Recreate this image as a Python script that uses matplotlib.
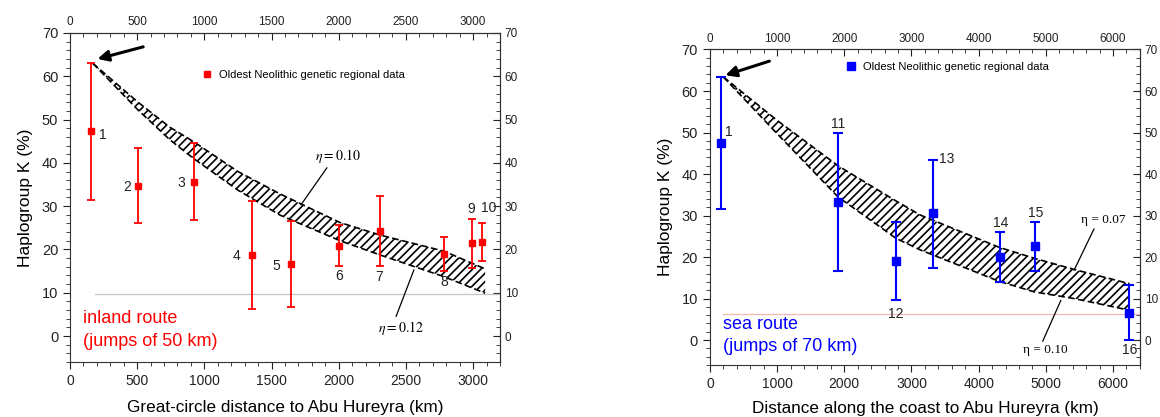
import numpy as np
import matplotlib
matplotlib.use("Agg")
import matplotlib.pyplot as plt
from matplotlib.lines import Line2D
from matplotlib.ticker import MultipleLocator

plt.rcParams['font.family'] = ['Liberation Sans', 'DejaVu Sans']
plt.rcParams['mathtext.fontset'] = 'stix'
plt.rcParams['hatch.linewidth'] = 1.2

# inland route (great-circle distance), regions 1-10
INLAND_ID = ['1', '2', '3', '4', '5', '6', '7', '8', '9', '10']
INLAND_KM = [155, 510, 921, 1354, 1647, 2003, 2304, 2787, 2995, 3067]
INLAND_K = [47.3, 34.7, 35.6, 18.7, 16.6, 20.9, 24.3, 18.9, 21.4, 21.8]
INLAND_LO = [31.5, 26.0, 26.8, 6.3, 6.6, 16.2, 16.2, 15.1, 15.8, 17.3]
INLAND_HI = [63.0, 43.5, 44.6, 31.3, 26.6, 25.6, 32.4, 22.9, 27.0, 26.2]

# sea route (distance along the coast), regions 1, 11-16
SEA_ID = ['1', '11', '12', '13', '14', '15', '16']
SEA_KM = [164, 1906, 2771, 3324, 4313, 4831, 6243]
SEA_K = [47.5, 33.3, 19.0, 30.5, 20.1, 22.7, 6.6]
SEA_LO = [31.6, 16.6, 9.6, 17.4, 14.1, 16.7, 0.0]
SEA_HI = [63.3, 50.0, 28.5, 43.5, 26.0, 28.5, 13.3]

# model curves bounding the hatched bands
INLAND_CURVE_KM = [170, 507, 745, 920, 1250, 1565, 2011, 2310, 2784, 3090]
INLAND_ETA010 = [63.0, 54.0, 48.2, 44.9, 38.0, 32.8, 26.2, 23.3, 19.6, 15.5]
INLAND_ETA012 = [63.0, 52.2, 45.3, 41.0, 33.7, 27.9, 22.0, 18.7, 13.7, 9.9]

SEA_CURVE_KM = [199, 995, 1906, 2771, 3134, 4313, 4831, 5423, 6243]
SEA_ETA007 = [63.4, 53.0, 42.0, 33.5, 30.1, 22.3, 19.7, 17.0, 13.6]
SEA_ETA010 = [63.4, 49.8, 34.5, 24.5, 21.7, 14.1, 11.6, 10.0, 7.2]

INLAND_BASELINE = 9.6
SEA_BASELINE = 6.4

LEGEND_TEXT = 'Oldest Neolithic genetic regional data'

inland_offsets = [(9, -3), (-8, -1), (-9, -1), (-11, -1), (-11, -1),
                  (0, -22), (0, -33), (0, -20), (-1, 25), (5, 24)]
sea_offsets = [(6, 8), (0, 56), (0, -38), (10, 39), (1, 24), (1, 24), (0, -27)]


def style_axes(ax, xmax, xmajor, xminor):
    ax.set_xlim(0, xmax)
    ax.set_ylim(-6, 70)
    ax.xaxis.set_major_locator(MultipleLocator(xmajor))
    ax.xaxis.set_minor_locator(MultipleLocator(xminor))
    ax.yaxis.set_major_locator(MultipleLocator(10))
    ax.yaxis.set_minor_locator(MultipleLocator(2))
    ax.tick_params(which='both', direction='out', colors='#222222')
    ax.tick_params(axis='y', labelsize=10.5)
    ax.tick_params(axis='x', labelsize=10)
    ax.tick_params(which='major', length=5)
    ax.tick_params(which='minor', length=3)
    for s in ax.spines.values():
        s.set_color('#333333')
    top = ax.secondary_xaxis('top')
    top.xaxis.set_major_locator(MultipleLocator(xmajor))
    top.xaxis.set_minor_locator(MultipleLocator(xminor))
    top.tick_params(which='both', direction='in', labelsize=8.5, colors='#222222')
    top.tick_params(which='major', length=5)
    top.tick_params(which='minor', length=3)
    right = ax.secondary_yaxis('right')
    right.yaxis.set_major_locator(MultipleLocator(10))
    right.yaxis.set_minor_locator(MultipleLocator(2))
    right.tick_params(which='both', direction='in', labelsize=8.5, colors='#222222')
    right.tick_params(which='major', length=5)
    right.tick_params(which='minor', length=3)


def draw_band(ax, x, upper, lower):
    ax.fill_between(x, lower, upper, facecolor='none', edgecolor='black',
                    hatch='////', linewidth=0)
    ax.plot(x, upper, color='black', lw=1.2, ls=(0, (4, 2)))
    ax.plot(x, lower, color='black', lw=1.2, ls=(0, (4, 2)))


def add_legend(ax, color, ms, anchor):
    handle = Line2D([], [], marker='s', ls='none', color=color, ms=ms)
    ax.legend([handle], [LEGEND_TEXT], loc='center left', bbox_to_anchor=anchor,
              frameon=False, fontsize=8, handlelength=1.0, handletextpad=0.6,
              borderpad=0, borderaxespad=0)


fig = plt.figure(figsize=(11.6, 4.17), dpi=100)
ax1 = fig.add_axes([0.0603, 0.1319, 0.3707, 0.789])
ax2 = fig.add_axes([0.612, 0.1247, 0.3707, 0.7566])

# ---- inland route ----
style_axes(ax1, 3200, 500, 100)
ax1.plot([185, 3200], [INLAND_BASELINE] * 2, color='#c4c4c4', lw=0.9)
draw_band(ax1, INLAND_CURVE_KM, INLAND_ETA010, INLAND_ETA012)
k = np.array(INLAND_K)
yerr = [k - np.array(INLAND_LO), np.array(INLAND_HI) - k]
ax1.errorbar(INLAND_KM, INLAND_K, yerr=yerr, fmt='s', color='#ff0000',
             ms=4.5, elinewidth=1.3, capsize=3, capthick=1.3)
for lab, xv, yv, off in zip(INLAND_ID, INLAND_KM, INLAND_K, inland_offsets):
    ax1.annotate(lab, (xv, yv), xytext=off, textcoords='offset points',
                 ha='center', va='center', fontsize=10, color='#222222')
ax1.annotate('', xy=(205, 64.0), xytext=(545, 66.8),
             arrowprops=dict(arrowstyle='-|>', color='black', lw=2.2,
                             mutation_scale=16, shrinkA=0, shrinkB=0))
ax1.annotate(r'$\eta = 0.10$', xy=(1719, 30.3), xytext=(1826, 41.6),
             ha='left', va='center', fontsize=10,
             arrowprops=dict(arrowstyle='-', color='black', lw=0.9,
                             shrinkA=0, shrinkB=0, relpos=(0.35, 0.2)))
ax1.annotate(r'$\eta = 0.12$', xy=(2560, 15.3), xytext=(2460, 1.8),
             ha='center', va='center', fontsize=10,
             arrowprops=dict(arrowstyle='-', color='black', lw=0.9,
                             shrinkA=0, shrinkB=0, relpos=(0.35, 0.8)))
ax1.text(100, 1.3, 'inland route\n(jumps of 50 km)', color='#ff0000',
         fontsize=13, ha='left', va='center', linespacing=1.45)
add_legend(ax1, '#ff0000', 5, (0.305, 0.873))
ax1.set_xlabel('Great-circle distance to Abu Hureyra (km)', fontsize=12.3,
               labelpad=9)
ax1.set_ylabel('Haplogroup K (%)', fontsize=12.5, labelpad=6)

# ---- sea route ----
style_axes(ax2, 6400, 1000, 200)
ax2.plot([198, 6400], [SEA_BASELINE] * 2, color='#f5b8b8', lw=0.9)
draw_band(ax2, SEA_CURVE_KM, SEA_ETA007, SEA_ETA010)
k = np.array(SEA_K)
yerr = [k - np.array(SEA_LO), np.array(SEA_HI) - k]
ax2.errorbar(SEA_KM, SEA_K, yerr=yerr, fmt='s', color='#0000ff',
             ms=6, elinewidth=1.5, capsize=3.5, capthick=1.5)
for lab, xv, yv, off in zip(SEA_ID, SEA_KM, SEA_K, sea_offsets):
    ax2.annotate(lab, (xv, yv), xytext=off, textcoords='offset points',
                 ha='center', va='center', fontsize=10, color='#222222')
ax2.annotate('', xy=(230, 63.8), xytext=(885, 67.2),
             arrowprops=dict(arrowstyle='-|>', color='black', lw=2.2,
                             mutation_scale=16, shrinkA=0, shrinkB=0))
ax2.annotate('η = 0.07', xy=(5422, 16.9), xytext=(5522, 28.9),
             ha='left', va='center', fontsize=9.5, family='Liberation Serif',
             arrowprops=dict(arrowstyle='-', color='black', lw=0.9,
                             shrinkA=0, shrinkB=0, relpos=(0.35, 0.2)))
ax2.annotate('η = 0.10', xy=(5224, 9.6), xytext=(4985, -2.4),
             ha='center', va='center', fontsize=9.5, family='Liberation Serif',
             arrowprops=dict(arrowstyle='-', color='black', lw=0.9,
                             shrinkA=0, shrinkB=0, relpos=(0.4, 0.8)))
ax2.text(200, 1.1, 'sea route\n(jumps of 70 km)', color='#0000ff',
         fontsize=13, ha='left', va='center', linespacing=1.45)
add_legend(ax2, '#0000ff', 6, (0.315, 0.945))
ax2.set_xlabel('Distance along the coast to Abu Hureyra (km)', fontsize=12.3,
               labelpad=7)
ax2.set_ylabel('Haplogroup K (%)', fontsize=12.5, labelpad=6)

fig.savefig('out.png', dpi=100)
